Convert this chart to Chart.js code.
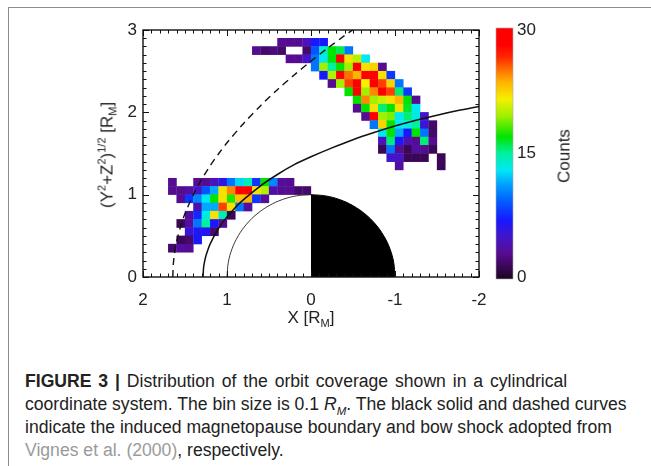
<!DOCTYPE html>
<html>
<head>
<meta charset="utf-8">
<script src="https://cdn.jsdelivr.net/npm/chart.js@4.4.1/dist/chart.umd.min.js"></script>
<style>
  html, body { margin: 0; padding: 0; background: #fff; }
  body { width: 651px; height: 466px; overflow: hidden; position: relative;
         font-family: "Liberation Sans", Arial, sans-serif; color: #222; }
  #frame { position: absolute; left: 8px; top: 7px; width: 700px; height: 520px;
           border-left: 1px solid #8c8c8c; border-top: 1px solid #8c8c8c; }
  #wrap { position: absolute; left: 0; top: 0; width: 651px; height: 340px; }
  .lbl { position: absolute; font-size: 17px; white-space: nowrap; color: #222; line-height: 1; }
  .lbl sub, .lbl sup { font-size: 11px; line-height: 0; }
  #ytitle { left: 107px; top: 155px; transform: translate(-50%, -50%) rotate(-90deg); }
  #xtitle { left: 311px; top: 317px; transform: translate(-50%, -50%); }
  #ctitle { left: 564px; top: 156px; transform: translate(-50%, -50%) rotate(-90deg); }
  #cap { position: absolute; left: 25px; top: 370px; font-size: 17.6px; line-height: 23px;
         white-space: nowrap; color: #222; }
  #cap sub { font-size: 11.5px; line-height: 0; }
  #cap .ref { color: #9a9a9a; }
  #cap .l1 { word-spacing: 2px; }
</style>
</head>
<body>
<div id="frame"></div>
<div id="wrap"><canvas id="orbitChart"></canvas></div>
<div class="lbl" id="ytitle">(Y<sup>2</sup>+Z<sup>2</sup>)<sup>1/2</sup> [R<sub>M</sub>]</div>
<div class="lbl" id="xtitle">X [R<sub>M</sub>]</div>
<div class="lbl" id="ctitle">Counts</div>
<div id="cap"><span class="l1"><b>FIGURE 3 |</b> Distribution of the orbit coverage shown in a cylindrical</span><br>coordinate system. The bin size is 0.1 <i>R<sub>M</sub></i>. The black solid and dashed curves<br>indicate the induced magnetopause boundary and bow shock adopted from<br><span class="ref">Vignes et al. (2000)</span>, respectively.</div>

<script>
// bin size (R_M)
const binSize = 0.1;

// upper cluster: bottom edge Y of each row, left edge X (largest X) of first cell, counts
const upperY = [2.8, 2.7, 2.6, 2.5, 2.4, 2.3, 2.2, 2.1, 2.0, 1.9, 1.8, 1.7, 1.6, 1.5, 1.4, 1.3];
const upperX = [0.4, 0.7, 0.3, 0.0, -0.1, -0.2, -0.4, -0.5, -0.5, -0.6, -0.7, -0.8, -0.8, -0.8, -0.9, -1.0];
const upperCounts = [
    [3, 3, 3, 4.5, 7, 7],
    [3, 2, 2.5, 2, null, null, 2, 9, 14, 17, 16, 10],
    [3, 3, 5, 10, 13, 17, 28, 22, 20, 13],
    [10, 19.5, 15, 17, 19.5, 28, 22, 22.5, 3],
    [7, 20, 28, 25, 23.5, 28, 28, 22, 8],
    [3, 19.5, 26, 28, 21.5, 28, 26, 22.5, 10],
    [17, 28, 19.5, 24.5, 28, 26, 15.5, 8],
    [17, 24.5, 19.5, 20.5, 22, 23.5, 17, 3],
    [3, 17, 22, 15.5, 17, 22, 16.5, 13],
    [3, 28, 19.5, 19, 13, 15.5, 13.5, 5],
    [10, 22.5, 17, 13, 13.5, 15, 5.5, 2],
    [13, 17, 11.5, 7, 17, 10, 2],
    [4.5, 15.5, 7, 4, 3, 15.5, 3],
    [1.5, 10, 3, 1.5, 3.5, 3, 1.5],
    [5, 5, 1.5, 1.5, 1.5, null, 1.5],
    [3.5, null, null, null, null, 1.5]
];

// lower cluster
const lowerY = [1.1, 1.0, 0.9, 0.8, 0.7, 0.6, 0.5, 0.4, 0.3];
const lowerX = [1.7, 1.7, 1.6, 1.4, 1.5, 1.6, 1.5, 1.6, 1.7];
const lowerCounts = [
    [3, null, null, 3, 3, 4.5, 6, 10, 12.5, 14.5, 8, 17, 10.5, 3.5, 3],
    [3, 3, 3.5, 5, 9, 11.5, 22, 24.5, 28, 28, 22, 20, 4, 3, 3, 2, 2],
    [3, 8, 10.5, 13, 17, 22, 17.5, 23, 23.5, 8, 3.5],
    [4, 11.5, 11.5, 26, 22, 10, 3.5],
    [3.5, 7.5, 13.5, 22, 14.5, 1.5],
    [1.5, 3.5, 10, 15, 7, 3],
    [5.5, 6.5, 6.5, 2],
    [1.5, 2, 7],
    [2, 3.5, 3]
];

// bow shock (dashed) and magnetopause boundary (solid), Vignes et al. (2000)
const bowX = [1.645, 1.64, 1.63, 1.62, 1.6, 1.55, 1.5, 1.4, 1.3, 1.2, 1.1, 1.0, 0.8, 0.6, 0.4, 0.2, 0.0, -0.2, -0.4, -0.5];
const bowY = [0, 0.142, 0.247, 0.319, 0.428, 0.623, 0.770, 1.001, 1.189, 1.352, 1.497, 1.630, 1.868, 2.081, 2.275, 2.454, 2.622, 2.781, 2.932, 3.005];
const mpbX = [1.285, 1.28, 1.27, 1.25, 1.2, 1.1, 1.0, 0.9, 0.8, 0.6, 0.4, 0.2, 0.0, -0.25, -0.5, -0.75, -1.0, -1.25, -1.5, -1.75, -2.0];
const mpbY = [0, 0.100, 0.171, 0.260, 0.403, 0.591, 0.730, 0.844, 0.942, 1.108, 1.245, 1.364, 1.46, 1.568, 1.667, 1.754, 1.833, 1.903, 1.965, 2.021, 2.071];

// planet surface: dayside outline and nightside (filled)
const dayX = [1, 0.985, 0.940, 0.866, 0.766, 0.643, 0.5, 0.342, 0.174, 0];
const dayY = [0, 0.174, 0.342, 0.5, 0.643, 0.766, 0.866, 0.940, 0.985, 1];
const nightX = [0, -0.174, -0.342, -0.5, -0.643, -0.766, -0.866, -0.940, -0.985, -1];
const nightY = [1, 0.985, 0.940, 0.866, 0.766, 0.643, 0.5, 0.342, 0.174, 0];

const countMax = 30;
const countTicks = [0, 15, 30];

// rainbow colour table (count -> colour)
const cmapStops = [
    [0, '#1a0620'], [1.5, '#3c0658'], [3, '#560c90'], [5, '#4414c8'], [7, '#1818ff'],
    [9.5, '#0064ff'], [11.5, '#00a8ff'], [13, '#00e8f4'], [15, '#00f0a0'], [17, '#00e400'],
    [19.5, '#a0f000'], [21.5, '#f4f000'], [23.5, '#ffb400'], [25, '#ff7000'],
    [26.5, '#ff2800'], [28, '#ff0000'], [30, '#ff0000']
];

function hexRgb(h) {
    return [parseInt(h.substr(1, 2), 16), parseInt(h.substr(3, 2), 16), parseInt(h.substr(5, 2), 16)];
}

function countColor(v) {
    for (let i = 1; i < cmapStops.length; i++) {
        if (v <= cmapStops[i][0]) {
            const a = cmapStops[i - 1], b = cmapStops[i];
            const t = (v - a[0]) / (b[0] - a[0]);
            const ca = hexRgb(a[1]), cb = hexRgb(b[1]);
            const c = ca.map((x, k) => Math.round(x + (cb[k] - x) * t));
            return `rgb(${c[0]},${c[1]},${c[2]})`;
        }
    }
    return cmapStops[cmapStops.length - 1][1];
}

function cellsFrom(rowsY, rowsX, rowsCounts) {
    let pts = [];
    for (let i = 0; i < rowsCounts.length; i++) {
        for (let j = 0; j < rowsCounts[i].length; j++) {
            const v = rowsCounts[i][j];
            if (v === null) continue;
            pts.push({ x: rowsX[i] - binSize * (j + 0.5), y: rowsY[i] + binSize / 2, v: v });
        }
    }
    return pts;
}

function pairs(xs, ys) {
    return xs.map((x, i) => ({ x: x, y: ys[i] }));
}

function cellRadius(ctx) {
    const s = ctx.chart.scales;
    if (!s.x || !s.y) return 6;
    const w = Math.abs(s.x.getPixelForValue(0) - s.x.getPixelForValue(binSize));
    const h = Math.abs(s.y.getPixelForValue(0) - s.y.getPixelForValue(binSize));
    return (Math.max(w, h) + 0.3) / Math.SQRT2;
}

const cells = cellsFrom(upperY, upperX, upperCounts).concat(cellsFrom(lowerY, lowerX, lowerCounts));

// inward ticks on all four sides + frame
const frameTicks = {
    id: 'frameTicks',
    afterDatasetsDraw(chart) {
        const { ctx, chartArea: a, scales: { x, y } } = chart;
        ctx.save();
        ctx.strokeStyle = '#111';
        ctx.lineWidth = 1;
        ctx.beginPath();
        for (let i = -20; i <= 20; i++) {
            const px = Math.round(x.getPixelForValue(i / 10)) + 0.5;
            const len = i % 10 === 0 ? 6 : 3.5;
            ctx.moveTo(px, a.bottom); ctx.lineTo(px, a.bottom - len);
            ctx.moveTo(px, a.top); ctx.lineTo(px, a.top + len);
        }
        for (let i = 0; i <= 30; i++) {
            const py = Math.round(y.getPixelForValue(i / 10)) + 0.5;
            const len = i % 10 === 0 ? 6 : 3.5;
            ctx.moveTo(a.left, py); ctx.lineTo(a.left + len, py);
            ctx.moveTo(a.right, py); ctx.lineTo(a.right - len, py);
        }
        ctx.stroke();
        ctx.lineWidth = 1.4;
        ctx.strokeRect(a.left, a.top, a.right - a.left, a.bottom - a.top);
        ctx.restore();
    }
};

// colour bar next to the plot, on the 'yc' scale
const colorBar = {
    id: 'colorBar',
    afterDraw(chart) {
        const { ctx, scales: { yc } } = chart;
        const top = yc.getPixelForValue(countMax) - 2;
        const bottom = yc.getPixelForValue(0) + 2;
        const left = 496, w = 17;
        const g = ctx.createLinearGradient(0, bottom, 0, top);
        cmapStops.forEach(s => g.addColorStop(s[0] / countMax, s[1]));
        ctx.save();
        ctx.fillStyle = g;
        ctx.fillRect(left, top, w, bottom - top);
        ctx.strokeStyle = '#aaa';
        ctx.lineWidth = 0.6;
        ctx.strokeRect(left, top, w, bottom - top);
        ctx.restore();
    }
};

const tickFont = { family: 'Liberation Sans', size: 17 };

const ctx = document.getElementById('orbitChart').getContext('2d');
new Chart(ctx, {
    type: 'scatter',
    data: {
        datasets: [
            {
                label: 'bow shock',
                type: 'line',
                data: pairs(bowX, bowY),
                borderColor: '#111',
                borderWidth: 1.4,
                borderDash: [7, 5],
                pointRadius: 0,
                tension: 0.3,
                fill: false,
                order: 0
            },
            {
                label: 'magnetopause',
                type: 'line',
                data: pairs(mpbX, mpbY),
                borderColor: '#111',
                borderWidth: 1.5,
                pointRadius: 0,
                tension: 0.3,
                fill: false,
                order: 0
            },
            {
                label: 'dayside',
                type: 'line',
                data: pairs(dayX, dayY),
                borderColor: '#222',
                borderWidth: 0.9,
                pointRadius: 0,
                tension: 0.4,
                fill: false,
                order: 1
            },
            {
                label: 'nightside',
                type: 'line',
                data: pairs(nightX, nightY),
                borderColor: '#000',
                backgroundColor: '#000',
                borderWidth: 1,
                pointRadius: 0,
                tension: 0.4,
                fill: 'origin',
                order: 1
            },
            {
                label: 'counts',
                data: cells,
                pointStyle: 'rect',
                pointRadius: cellRadius,
                pointHoverRadius: cellRadius,
                pointBorderWidth: 0,
                pointHoverBorderWidth: 0,
                pointBackgroundColor: c => countColor(c.raw.v),
                pointHoverBackgroundColor: c => countColor(c.raw.v),
                order: 5
            }
        ]
    },
    options: {
        responsive: true,
        maintainAspectRatio: false,
        animation: false,
        events: [],
        layout: { padding: { top: 30, left: 0, right: 0, bottom: 0 } },
        plugins: {
            legend: { display: false },
            tooltip: { enabled: false }
        },
        scales: {
            x: {
                type: 'linear',
                min: -2,
                max: 2,
                reverse: true,
                grid: { display: false, drawTicks: false },
                border: { display: false },
                ticks: { stepSize: 1, padding: 13, color: '#222', font: tickFont },
                afterFit: s => { s.height = 63; }
            },
            y: {
                type: 'linear',
                min: 0,
                max: 3,
                grid: { display: false, drawTicks: false },
                border: { display: false },
                ticks: { stepSize: 1, padding: 6, color: '#222', font: tickFont },
                afterFit: s => { s.width = 143; }
            },
            yc: {
                type: 'linear',
                position: 'right',
                min: 0,
                max: countMax,
                // tick marks hidden; tickLength only pushes the labels past the colour bar
                grid: { display: false, drawTicks: true, tickLength: 34 },
                border: { display: false },
                afterBuildTicks: s => { s.ticks = countTicks.map(v => ({ value: v })); },
                ticks: { padding: 4, color: '#222', font: tickFont },
                afterFit: s => { s.width = 172; }
            }
        }
    },
    plugins: [frameTicks, colorBar]
});
</script>
</body>
</html>
